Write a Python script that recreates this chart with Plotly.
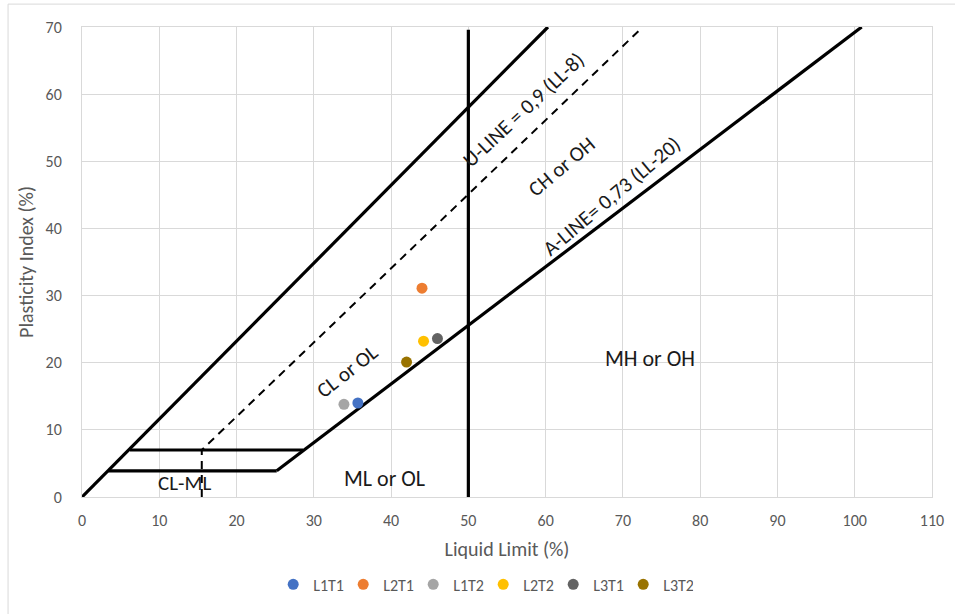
import plotly.graph_objects as go

# ---- data ----
sample_names = ["L1T1", "L2T1", "L1T2", "L2T2", "L3T1", "L3T2"]
liquid_limit = [35.7, 44.0, 33.9, 44.2, 46.0, 42.0]
plasticity_index = [14.0, 31.1, 13.8, 23.2, 23.6, 20.1]
sample_colors = ["#4472C4", "#ED7D31", "#A5A5A5", "#FFC000", "#636363", "#997300"]

# chart boundary lines (as drawn in the reference)
upper_line_x = [0, 60.3]
upper_line_y = [0, 70]
a_line_x = [25.2, 100.9]
a_line_y = [3.9, 70]
box_top_x = [6.2, 28.6]
box_top_y = [7, 7]
box_bottom_x = [3.4, 25.2]
box_bottom_y = [3.9, 3.9]
u_dash_x = [15.5, 15.5, 72.2]
u_dash_y = [0, 7, 69.6]
ll50_x = [50, 50]
ll50_y = [0, 69.6]

x_ticks = list(range(0, 111, 10))
y_ticks = list(range(0, 71, 10))

FONT = "Carlito, Lato, 'Liberation Sans', sans-serif"
GREY = "#595959"

fig = go.Figure()

def solid(x, y, width=3.2, dash=None):
    fig.add_trace(go.Scatter(x=x, y=y, mode="lines", showlegend=False, hoverinfo="skip",
                             line=dict(color="black", width=width, dash=dash)))

solid(upper_line_x, upper_line_y)
solid(a_line_x, a_line_y)
solid(box_top_x, box_top_y)
solid(box_bottom_x, box_bottom_y)
solid(ll50_x, ll50_y)
solid(u_dash_x, u_dash_y, width=2, dash="8px,6px")

for n, xv, yv, c in zip(sample_names, liquid_limit, plasticity_index, sample_colors):
    fig.add_trace(go.Scatter(x=[xv], y=[yv], mode="markers", name=n,
                             marker=dict(color=c, size=11, line=dict(width=0))))

labels = [
    ("U-LINE = 0,9 (LL-8)", 57.1, 57.7, -43, 21),
    ("CH or OH", 62.0, 49.2, -40, 21),
    ("A-LINE= 0,73 (LL-20)", 68.6, 44.8, -40, 21),
    ("CL or OL", 34.4, 18.7, -38, 21),
    ("CL-ML", 13.3, 2.1, 0, 21),
    ("ML or OL", 39.2, 2.7, 0, 22),
    ("MH or OH", 73.5, 20.6, 0, 22),
]
for t, xv, yv, ang, sz in labels:
    fig.add_annotation(x=xv, y=yv, text=t, textangle=ang, showarrow=False,
                       font=dict(family=FONT, size=sz, color="#1a1a1a"))

# outer chart border (top and left edges visible in the reference)
fig.add_shape(type="line", xref="paper", yref="paper", x0=-0.087, x1=1.03, y0=1.0487, y1=1.0487,
              line=dict(color="#D9D9D9", width=1))
fig.add_shape(type="line", xref="paper", yref="paper", x0=-0.087, x1=-0.087, y0=1.0487, y1=-0.26,
              line=dict(color="#D9D9D9", width=1))

fig.update_layout(
    width=955, height=614,
    margin=dict(l=82, r=23, t=27, b=115),
    paper_bgcolor="white", plot_bgcolor="white",
    font=dict(family=FONT, size=16, color=GREY),
    legend=dict(orientation="h", x=0.472, xanchor="center", y=-0.186, yanchor="middle",
                font=dict(family=FONT, size=16, color=GREY), itemwidth=30,
                entrywidth=25, tracegroupgap=0),
    xaxis=dict(range=[0, 110], tickvals=x_ticks, showgrid=True, gridcolor="#D9D9D9", gridwidth=1,
               showline=True, linecolor="#D9D9D9", mirror=True, zeroline=False,
               ticks="outside", ticklen=9, tickcolor="rgba(0,0,0,0)",
               tickfont=dict(family=FONT, size=16, color=GREY),
               title=dict(text="Liquid Limit (%)", standoff=12,
                          font=dict(family=FONT, size=20, color=GREY))),
    yaxis=dict(range=[0, 70], tickvals=y_ticks, showgrid=True, gridcolor="#D9D9D9", gridwidth=1,
               showline=True, linecolor="#D9D9D9", mirror=True, zeroline=False,
               ticks="outside", ticklen=16, tickcolor="rgba(0,0,0,0)",
               tickfont=dict(family=FONT, size=16, color=GREY),
               title=dict(text="Plasticity Index (%)", standoff=6,
                          font=dict(family=FONT, size=20, color=GREY))),
)

fig.write_html("out.html", config={"displayModeBar": False},
               post_script="document.body.style.margin='0px';")
